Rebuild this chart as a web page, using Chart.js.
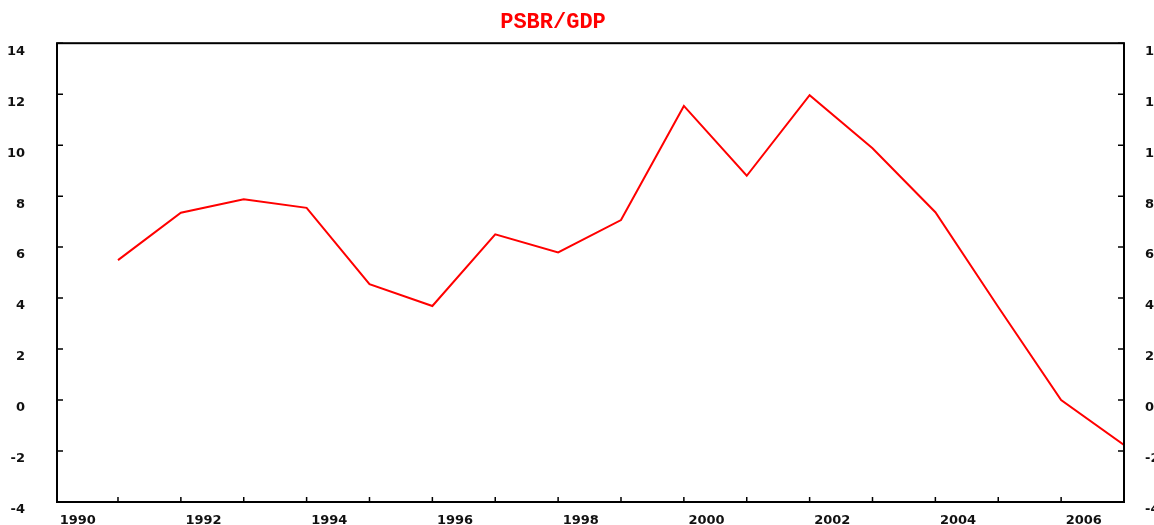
<!DOCTYPE html>
<html>
<head>
<meta charset="utf-8">
<script src="https://cdn.jsdelivr.net/npm/chart.js@4.4.0/dist/chart.umd.min.js"></script>
<style>
  html, body { margin: 0; padding: 0; background: #fff; overflow: hidden; }
  #wrap { width: 1184px; height: 530px; position: relative; }
</style>
</head>
<body>
<div id="wrap"><canvas id="psbr"></canvas></div>
<script>
// fiscal years 1990/91 .. 2006/07, plotted a bit past the start of each year
var years = [1990, 1991, 1992, 1993, 1994, 1995, 1996, 1997, 1998, 1999, 2000, 2001, 2002, 2003, 2004, 2005, 2006];
var yearFrac = 0.64;
var psbrGdp = [5.49, 7.35, 7.88, 7.54, 4.55, 3.69, 6.50, 5.79, 7.06, 11.54, 8.80, 11.96, 9.88, 7.37, 3.65, 0.0, -1.76];
var tickYears = [1990, 1992, 1994, 1996, 1998, 2000, 2002, 2004, 2006];

var tickFont = { family: 'DejaVu Sans', size: 13, weight: 'bold' };

// y axes: keep their label padding from eating the plot height
function noVertPad(scale) {
    scale.paddingTop = 0;
    scale.paddingBottom = 0;
}

// frame + inward tick marks, and nudge the title left like the original
var frameTicks = {
    id: 'frameTicks',
    afterLayout: function(chart) {
        var t = chart.titleBlock;
        if (t) { t.left -= 39; t.right -= 39; }
    },
    afterDatasetsDraw: function(chart) {
        var ctx = chart.ctx, a = chart.chartArea, s = chart.scales;
        ctx.save();
        ctx.strokeStyle = '#000';
        ctx.lineWidth = 2;
        ctx.strokeRect(a.left, a.top, a.right - a.left, a.bottom - a.top);
        ctx.lineWidth = 1.5;
        ctx.beginPath();
        s.y.ticks.forEach(function(t) {
            var py = s.y.getPixelForValue(t.value);
            ctx.moveTo(a.left, py); ctx.lineTo(a.left + 6, py);
            ctx.moveTo(a.right, py); ctx.lineTo(a.right - 6, py);
        });
        years.forEach(function(yr) {
            var px = s.x.getPixelForValue(yr + yearFrac);
            ctx.moveTo(px, a.bottom); ctx.lineTo(px, a.bottom - 5);
        });
        ctx.stroke();
        ctx.restore();
    }
};

var ctx = document.getElementById('psbr');
var chart = new Chart(ctx, {
    type: 'line',
    data: {
        datasets: [{
            label: 'PSBR/GDP',
            data: years.map(function(yr, i) { return { x: yr + yearFrac, y: psbrGdp[i] }; }),
            borderColor: '#ff0000',
            borderWidth: 2,
            pointRadius: 0,
            tension: 0,
            fill: false
        }]
    },
    plugins: [frameTicks],
    options: {
        responsive: true,
        maintainAspectRatio: false,
        animation: false,
        layout: { padding: 0 },
        plugins: {
            legend: { display: false },
            tooltip: { enabled: false },
            title: {
                display: true,
                text: 'PSBR/GDP',
                color: '#ff0000',
                font: { family: 'Liberation Mono', size: 22, weight: 'bold', lineHeight: 1.1 },
                padding: { top: 10, bottom: 9 }
            }
        },
        scales: {
            x: {
                type: 'linear',
                min: 1989.67,
                max: 2006.64,
                grid: { display: false },
                border: { display: false },
                afterBuildTicks: function(scale) {
                    scale.ticks = tickYears.map(function(v) { return { value: v }; });
                },
                afterFit: function(scale) { scale.height = 28; },
                ticks: {
                    autoSkip: false,
                    maxRotation: 0,
                    padding: 3,
                    color: '#111',
                    font: tickFont,
                    callback: function(v) { return String(v); }
                }
            },
            y: {
                position: 'left',
                min: -4,
                max: 14,
                grid: { display: false },
                border: { display: false },
                afterFit: function(scale) { scale.width = 57; noVertPad(scale); },
                ticks: { stepSize: 2, padding: 24, labelOffset: 8, color: '#111', font: tickFont }
            },
            y2: {
                position: 'right',
                min: -4,
                max: 14,
                grid: { display: false },
                border: { display: false },
                afterFit: function(scale) { scale.width = 60; noVertPad(scale); },
                ticks: { stepSize: 2, padding: 13, labelOffset: 8, color: '#111', font: tickFont }
            }
        }
    }
});
</script>
</body>
</html>
